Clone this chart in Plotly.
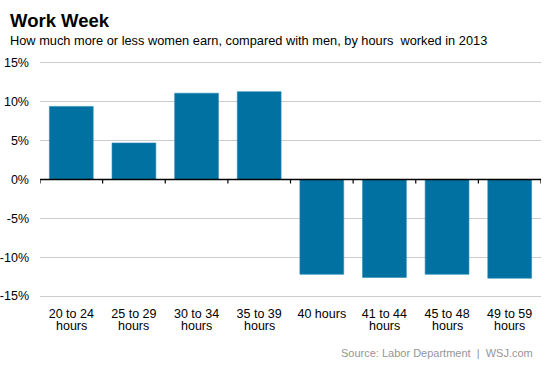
import plotly.graph_objects as go

label_line1 = ["20 to 24", "25 to 29", "30 to 34", "35 to 39", "40 hours", "41 to 44", "45 to 48", "49 to 59"]
label_line2 = ["hours", "hours", "hours", "hours", "", "hours", "hours", "hours"]
values = [9.4, 4.7, 11.1, 11.3, -12.2, -12.6, -12.2, -12.7]
y_ticks = [-15, -10, -5, 0, 5, 10, 15]
y_labels = ["-15%", "-10%", "-5%", "0%", "5%", "10%", "15%"]

FONT = "Arial, Liberation Sans, sans-serif"
L, R, T, B = 40, 12, 59, 69
W, H = 553, 369
PW = W - L - R
PH = H - T - B
n = len(label_line1)

fig = go.Figure()
fig.add_trace(go.Bar(
    x=list(range(n)), y=values,
    marker=dict(color="#0071a1", line=dict(color="#2f8cb8", width=0.6)),
    width=0.7, hoverinfo="skip",
))

shapes = [dict(type="line", xref="x", yref="y", x0=-0.5, x1=n - 0.5, y0=0, y1=0,
               line=dict(color="black", width=1.5))]
for i in range(n + 1):
    shapes.append(dict(type="line", xref="x", yref="y", ysizemode="pixel", yanchor=0,
                       x0=i - 0.5, x1=i - 0.5, y0=0, y1=-4,
                       line=dict(color="black", width=1.2)))

annotations = [
    dict(text="<b>Work Week</b>", xref="paper", yref="paper", x=-(L - 8)/PW, y=1 + (T - 8)/PH,
         xanchor="left", yanchor="top", showarrow=False, font=dict(size=18.5, color="black")),
    dict(text="How much more or less women earn, compared with men, by hours  worked in 2013",
         xref="paper", yref="paper", x=-(L - 8)/PW, y=1 + (T - 31)/PH,
         xanchor="left", yanchor="top", showarrow=False, font=dict(size=12.8, color="black")),
    dict(text="Source: Labor Department  |  WSJ.com", xref="paper", yref="paper",
         x=(535 - L)/PW, y=-(353 - (H - B))/PH, xanchor="right", yanchor="middle",
         showarrow=False, font=dict(size=11, color="#959595")),
]
for i, t in enumerate(label_line2):
    if t:
        annotations.append(dict(text=t, xref="x", yref="paper", x=i, y=-(326 - (H - B))/PH,
                                xanchor="center", yanchor="middle", showarrow=False,
                                font=dict(size=12.5, color="black")))

fig.update_layout(
    width=W, height=H,
    margin=dict(l=L, r=R, t=T, b=B, autoexpand=False),
    paper_bgcolor="white", plot_bgcolor="white",
    font=dict(family=FONT, color="black", size=13),
    showlegend=False,
    shapes=shapes,
    annotations=annotations,
    xaxis=dict(range=[-0.5, n - 0.5], tickmode="array",
               tickvals=list(range(n)), ticktext=label_line1,
               showgrid=False, zeroline=False, showline=False, ticks="", automargin=False,
               ticklabelstandoff=4,
               tickfont=dict(size=12.5, color="black"), fixedrange=True),
    yaxis=dict(range=[-15.5, 15.5], tickmode="array", tickvals=y_ticks, ticktext=y_labels,
               showgrid=True, gridcolor="#cccccc", gridwidth=1, zeroline=False, automargin=False,
               showline=False, ticks="", ticklabelstandoff=10,
               tickfont=dict(size=12.5, color="black"), fixedrange=True),
)

fig.write_html("out.html", config={"displayModeBar": False, "staticPlot": True},
               post_script="document.body.style.margin='0';document.body.style.overflow='hidden';")
